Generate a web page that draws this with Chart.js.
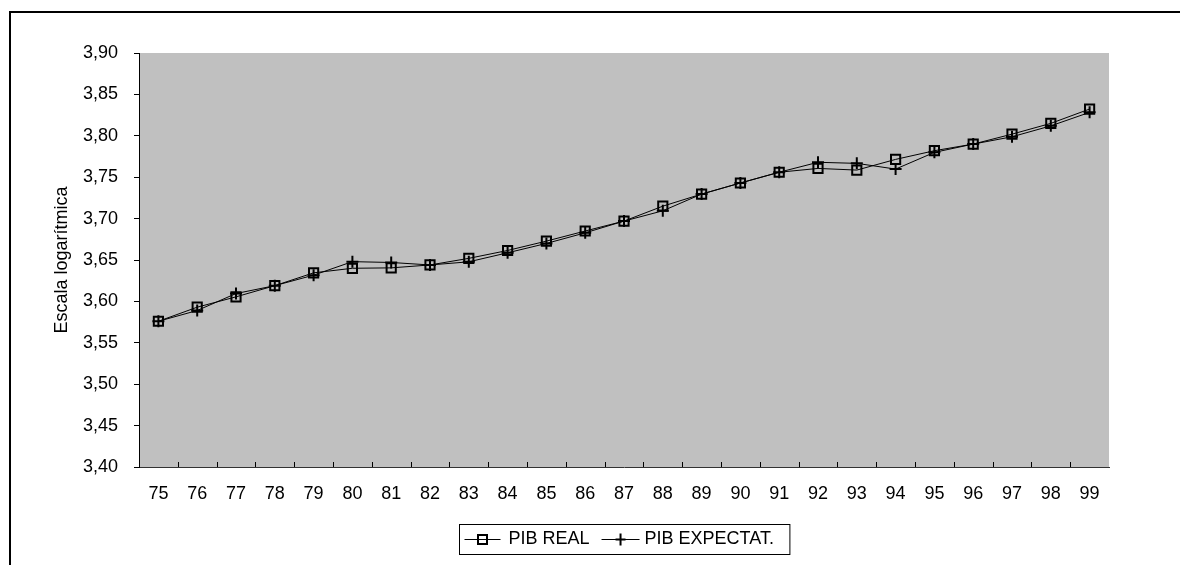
<!DOCTYPE html>
<html><head><meta charset="utf-8">
<script src="https://cdn.jsdelivr.net/npm/chart.js@4.4.0/dist/chart.umd.min.js"></script>
<style>html,body{margin:0;padding:0;background:#fff;}#wrap{width:1180px;height:565px;}</style>
</head><body><div id="wrap"><canvas id="c" width="1180" height="565"></canvas></div>
<script>
const years = ['75','76','77','78','79','80','81','82','83','84','85','86','87','88','89','90','91','92','93','94','95','96','97','98','99'];
const pibReal = [3.576,3.593,3.6055,3.619,3.6345,3.640,3.6405,3.644,3.652,3.6615,3.6728,3.685,3.697,3.715,3.7296,3.743,3.756,3.7606,3.7586,3.7715,3.782,3.790,3.802,3.815,3.8323];
const pibExpect = [3.576,3.589,3.6095,3.619,3.6317,3.648,3.647,3.644,3.6478,3.6587,3.670,3.6828,3.697,3.7094,3.7296,3.743,3.756,3.768,3.7667,3.7598,3.780,3.790,3.7988,3.812,3.8283];
const seriesLabels = ['PIB REAL','PIB EXPECTAT.'];
const yTitle = 'Escala logarítmica';
const yMin = 3.40, yMax = 3.90, yStep = 0.05;

const FONT = 'Liberation Sans, Arial, sans-serif';
const decor = {
  id: 'decor',
  beforeDraw(chart) {
    const {ctx, chartArea: a} = chart;
    ctx.save();
    ctx.fillStyle = '#000';
    ctx.fillRect(10, 11, 1170, 2);
    ctx.fillRect(9, 11, 2, 560);
    ctx.fillStyle = '#c0c0c0';
    ctx.fillRect(a.left, a.top, a.right - a.left, a.bottom - a.top);
    ctx.restore();
  },
  afterDraw(chart) {
    const {ctx, chartArea: a} = chart;
    const xs = chart.scales.x;
    ctx.save();
    ctx.strokeStyle = '#000';
    ctx.lineWidth = 1;
    for (let i = 1; i < years.length; i++) {
      const x = Math.round((xs.getPixelForValue(i - 1) + xs.getPixelForValue(i)) / 2) + 0.5;
      ctx.beginPath(); ctx.moveTo(x, a.bottom); ctx.lineTo(x, a.bottom - 5); ctx.stroke();
    }
    // legend
    ctx.font = '18px ' + FONT;
    const w1 = ctx.measureText(seriesLabels[0]).width;
    const w2 = ctx.measureText(seriesLabels[1]).width;
    const total = 5 + 36 + 8 + w1 + 12 + 38 + 5 + w2 + 16;
    const cx = (a.left + a.right) / 2;
    const left = Math.round(cx - total / 2) + 0.5;
    const top = 524.5, h = 30, cy = 539.5;
    ctx.strokeStyle = '#000';
    ctx.lineWidth = 1;
    ctx.strokeRect(left, top, total, h);
    let x = left + 5;
    ctx.beginPath(); ctx.moveTo(x, cy); ctx.lineTo(x + 36, cy); ctx.stroke();
    ctx.lineWidth = 2;
    ctx.strokeRect(x + 18 - 4.5, cy - 4.5, 9, 9);
    x += 36 + 8;
    ctx.fillStyle = '#000';
    ctx.textBaseline = 'middle';
    ctx.textAlign = 'left';
    ctx.fillText(seriesLabels[0], x, cy);
    x += w1 + 12;
    ctx.lineWidth = 1;
    ctx.beginPath(); ctx.moveTo(x, cy); ctx.lineTo(x + 38, cy); ctx.stroke();
    ctx.lineWidth = 2;
    ctx.beginPath(); ctx.moveTo(x + 19, cy - 6); ctx.lineTo(x + 19, cy + 6);
    ctx.moveTo(x + 14, cy); ctx.lineTo(x + 24, cy); ctx.stroke();
    x += 38 + 5;
    ctx.fillText(seriesLabels[1], x, cy);
    ctx.restore();
  }
};

new Chart(document.getElementById('c'), {
  type: 'line',
  data: {
    labels: years,
    datasets: [
      { label: seriesLabels[0], data: pibReal, borderColor: '#000', borderWidth: 1, tension: 0,
        pointStyle: 'rect', pointRadius: 6.5, pointBorderWidth: 2, pointBorderColor: '#000',
        pointBackgroundColor: 'rgba(0,0,0,0)' },
      { label: seriesLabels[1], data: pibExpect, borderColor: '#000', borderWidth: 1, tension: 0,
        pointStyle: 'cross', pointRadius: 6, pointBorderWidth: 2, pointBorderColor: '#000',
        pointBackgroundColor: '#000' }
    ]
  },
  options: {
    responsive: false, animation: false, devicePixelRatio: 1,
    layout: { padding: { top: 53, right: 71, left: 0, bottom: 0 } },
    plugins: { legend: { display: false }, title: { display: false }, tooltip: { enabled: false } },
    scales: {
      x: {
        type: 'category', offset: true,
        grid: { display: false, drawTicks: false },
        border: { display: true, color: '#333', width: 1 },
        ticks: { color: '#000', font: { family: FONT, size: 18 }, padding: 16, maxRotation: 0, autoSkip: false },
        afterFit(s) { s.height = 98; }
      },
      y: {
        min: yMin, max: yMax,
        grid: { display: true, drawOnChartArea: false, drawTicks: true, tickLength: 5, color: '#000' },
        border: { display: true, color: '#000', width: 1 },
        ticks: { stepSize: yStep, color: '#000', font: { family: FONT, size: 18 }, padding: 16,
          callback: v => v.toFixed(2).replace('.', ',') },
        title: { display: true, text: yTitle, color: '#000', font: { family: FONT, size: 18 }, padding: { top: 51, bottom: 0 } },
        afterFit(s) { s.width = 139; }
      }
    }
  },
  plugins: [decor]
});
</script></body></html>
